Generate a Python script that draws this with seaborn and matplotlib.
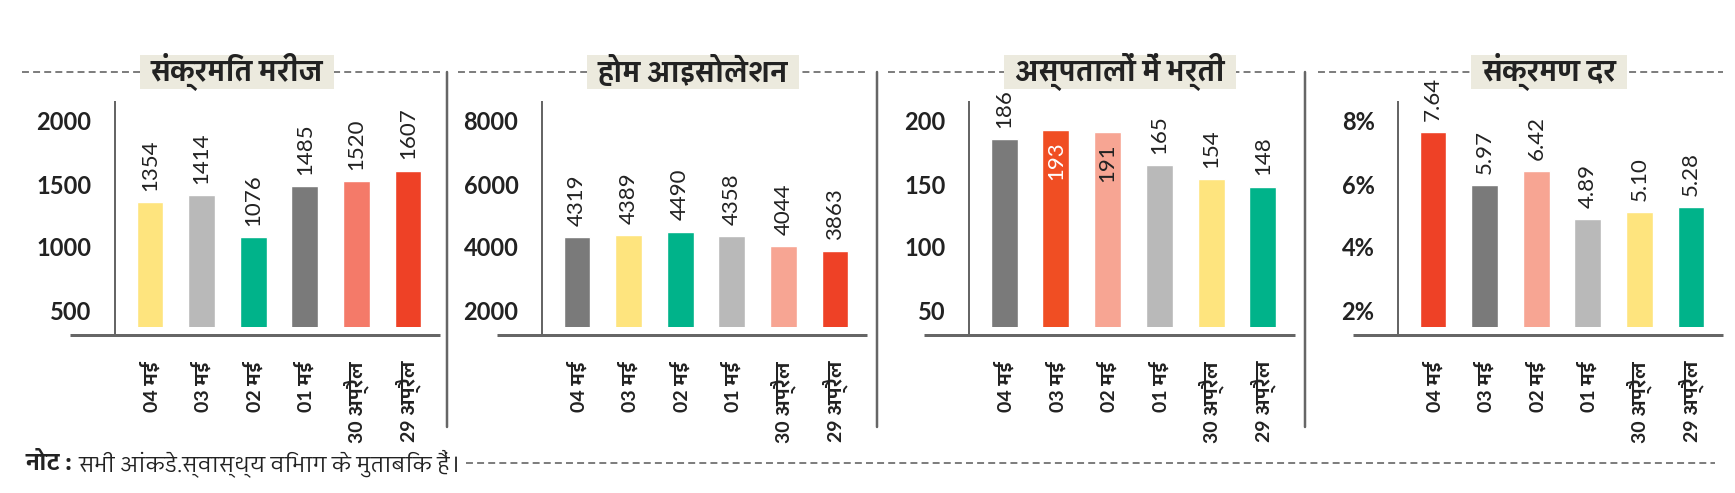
import numpy as np
import pandas as pd
import seaborn as sns
import matplotlib
matplotlib.use('Agg')
import matplotlib.pyplot as plt
from matplotlib import font_manager
from matplotlib.ft2font import FT2Font
from matplotlib.lines import Line2D
from matplotlib.patches import Rectangle

# data
dates = ['04 मई', '03 मई', '02 मई', '01 मई', '30 अप्रैल', '29 अप्रैल']
titles = ['संक्रमित मरीज', 'होम आइसोलेशन', 'अस्पतालों में भर्ती', 'संक्रमण दर']
infected = [1354, 1414, 1076, 1485, 1520, 1607]
home_iso = [4319, 4389, 4490, 4358, 4044, 3863]
hospital = [186, 193, 191, 165, 154, 148]
rate = [7.64, 5.97, 6.42, 4.89, 5.10, 5.28]
ticks_1 = [500, 1000, 1500, 2000]
ticks_2 = [2000, 4000, 6000, 8000]
ticks_3 = [50, 100, 150, 200]
ticks_4 = [2, 4, 6, 8]
note_head = 'नोट :'
note_body = 'सभी आंकड़े स्वास्थ्य विभाग के मुताबिक हैं।'

# colours
YEL, LG, GRN, DG = '#FEE47E', '#B9B9B9', '#00B38A', '#7A7A7A'
SAL, RED, PNK, ORG = '#F47A69', '#EE4126', '#F7A593', '#F04E23'
colors_1 = [YEL, LG, GRN, DG, SAL, RED]
colors_2 = [DG, YEL, GRN, LG, PNK, RED]
colors_3 = [DG, ORG, PNK, LG, YEL, GRN]
colors_4 = [RED, DG, PNK, LG, YEL, GRN]


def has_deva(path):
    try:
        return 0x0915 in FT2Font(path).get_charmap()
    except Exception:
        return False


deva_entries = [f for f in font_manager.fontManager.ttflist if has_deva(f.fname)]
deva_names = sorted({f.name for f in deva_entries})
bold_names = sorted({f.name for f in deva_entries
                     if isinstance(f.weight, int) and f.weight >= 600
                     or f.weight in ('bold', 'semibold', 'demibold')})
pref = ([n for n in bold_names if 'Devanagari' in n] + bold_names
        + [n for n in deva_names if 'Devanagari' in n] + deva_names)
deva_font = pref[0] if pref else 'DejaVu Sans'

sns.set_theme(style='white')
plt.rcParams['font.family'] = ['Lato', deva_font, 'DejaVu Sans']
plt.rcParams['lines.scale_dashes'] = False
DEVA = [deva_font, 'Lato', 'DejaVu Sans']

W, H = 1735, 493
fig = plt.figure(figsize=(W / 100, H / 100), dpi=100)
fig.patch.set_facecolor('white')
renderer = fig.canvas.get_renderer()


def fx(x):
    return x / W


def fy(y):
    return 1 - y / H


PT = 0.72  # points per pixel
AX_COL = '#666666'
TXT = '#222222'

panels = [
    (titles[0], infected, ticks_1, colors_1, lambda v: f'{v}', lambda t: f'{t}'),
    (titles[1], home_iso, ticks_2, colors_2, lambda v: f'{v}', lambda t: f'{t}'),
    (titles[2], hospital, ticks_3, colors_3, lambda v: f'{v}', lambda t: f'{t}'),
    (titles[3], rate, ticks_4, colors_4, lambda v: f'{v:.2f}', lambda t: f'{t}%'),
]
spine_x = [115, 542, 969, 1398]
right_x = [440, 867, 1295, 1723]
dash_start = [22, 458, 888, 1318]
title_cx = [237, 693, 1120, 1549]
inside = {2: {1: 'white', 2: TXT}}

top_px, bot_px, line_px = 102, 327, 335

for k, (title, vals, ticks, cols, vfmt, tfmt) in enumerate(panels):
    l, r = spine_x[k], right_x[k]
    ax = fig.add_axes([fx(l), fy(bot_px), (r - l) / W, (bot_px - top_px) / H])
    df = pd.DataFrame({'date': dates, 'value': vals})
    sns.barplot(data=df, x='date', y='value', hue='date', palette=cols,
                legend=False, width=0.52, saturation=1, ax=ax)
    t0, t3 = ticks[0], ticks[-1]
    ppu = 189 / (t3 - t0)
    ax.set_ylim(t0 - 17 / ppu, t3 + 19 / ppu)
    ax.set_xlim(-0.68, 5.62)
    v_line = t0 - (line_px - 310) / ppu

    sns.despine(ax=ax, bottom=True)
    ax.spines['left'].set_color(AX_COL)
    ax.spines['left'].set_linewidth(2 * PT)
    ax.spines['left'].set_bounds(v_line, t3 + 19 / ppu)
    ax.axhline(v_line, xmin=-45 / (r - l), xmax=1, color=AX_COL,
               lw=3 * PT, clip_on=False, solid_capstyle='butt')

    ax.set_yticks(ticks)
    ax.set_yticklabels([tfmt(t) for t in ticks])
    ax.tick_params(axis='y', direction='inout', length=15 * PT, width=2 * PT,
                   color=AX_COL, labelsize=17, labelcolor=TXT, pad=16 * PT)
    for lab in ax.get_yticklabels():
        lab.set_fontweight('bold')
    ax.set_xticks(range(len(dates)))
    ax.set_xticklabels(dates, rotation=90, fontsize=14, fontweight='bold', color=TXT)
    ax.tick_params(axis='x', length=0, pad=34 * PT)
    ax.set_xlabel('')
    ax.set_ylabel('')
    ax.grid(False)

    for i, v in enumerate(vals):
        if i in inside.get(k, {}):
            ax.annotate(vfmt(v), (i, v), xytext=(0, -8), textcoords='offset points',
                        rotation=90, ha='center', va='top', fontsize=16,
                        color=inside[k][i])
        else:
            ax.annotate(vfmt(v), (i, v), xytext=(0, 8), textcoords='offset points',
                        rotation=90, ha='center', va='bottom', fontsize=16,
                        color=TXT, annotation_clip=False)

    # header dashed line and title box
    fig.add_artist(Line2D([fx(dash_start[k]), fx(r)], [fy(72), fy(72)],
                          color='#555555', lw=1.5 * PT, ls=(0, (5, 3)), zorder=1))
    tt = fig.text(fx(title_cx[k]), fy(72), title, ha='center', va='center',
                  fontsize=20, fontweight='bold', color=TXT, family=DEVA, zorder=3)
    tw = tt.get_window_extent(renderer).width
    fig.add_artist(Rectangle((fx(title_cx[k] - tw / 2 - 11), fy(89)),
                             (tw + 22) / W, 34 / H, transform=fig.transFigure,
                             fc='#ECEADE', ec='none', zorder=2))

# separators
for x in [447, 877, 1305]:
    fig.add_artist(Line2D([fx(x), fx(x)], [fy(72), fy(427)], color=AX_COL, lw=2.5 * PT))

# footer note
t1 = fig.text(fx(25), fy(463), note_head, ha='left', va='center', fontsize=16.5,
              fontweight='bold', color=TXT, family=DEVA)
bb = t1.get_window_extent(renderer)
t2 = fig.text(bb.x1 / W + fx(6), fy(463), note_body, ha='left', va='center', fontsize=16,
              color=TXT, family=DEVA)
bb2 = t2.get_window_extent(renderer)
fig.add_artist(Line2D([bb2.x1 / W + fx(6), fx(1715)], [fy(463), fy(463)],
                      color='#555555', lw=1.5 * PT, ls=(0, (5, 3))))

fig.savefig('out.png', dpi=100, facecolor='white')
